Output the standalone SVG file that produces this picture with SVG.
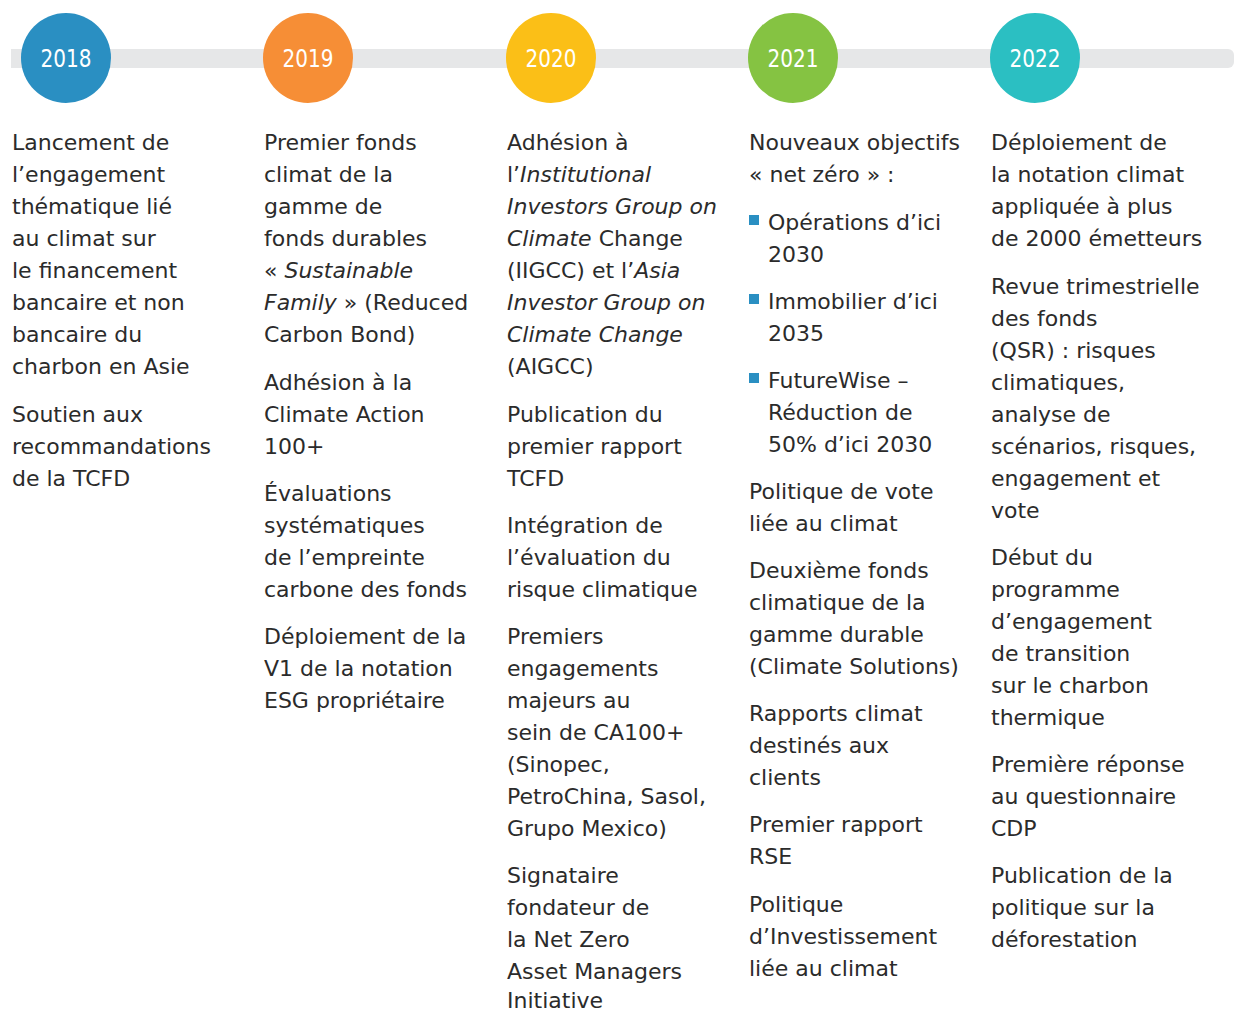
<svg xmlns="http://www.w3.org/2000/svg" width="1235" height="1011" viewBox="0 0 1235 1011">
<style>
.t{font-family:"DejaVu Sans","Liberation Sans",sans-serif;font-size:22px;fill:#2b2b2b}
.i{font-style:italic}
.y{font-family:"DejaVu Sans Condensed","DejaVu Sans",sans-serif;font-stretch:condensed;font-size:25px;fill:#ffffff;text-anchor:middle}
.b{fill:#2a8fc2}
</style>
<rect width="1235" height="1011" fill="#ffffff"/>
<g id="connectors">
<path d="M11 49 H1228 A6 6 0 0 1 1234 55 V62 A6 6 0 0 1 1228 68 H11 Z" fill="#e6e7e8"/>
</g>
<g id="y2018">
<circle cx="66" cy="58" r="45" fill="#2a8fc2"/>
<text class="y" x="66" y="67" textLength="51" lengthAdjust="spacingAndGlyphs">2018</text>
<text class="t" transform="translate(0,-2)">
<tspan x="12" y="151.5">Lancement de</tspan>
<tspan x="12" y="183.5">l’engagement</tspan>
<tspan x="12" y="215.5">thématique lié</tspan>
<tspan x="12" y="247.5">au climat sur</tspan>
<tspan x="12" y="279.5">le financement</tspan>
<tspan x="12" y="311.5">bancaire et non</tspan>
<tspan x="12" y="343.5">bancaire du</tspan>
<tspan x="12" y="375.5">charbon en Asie</tspan>
<tspan x="12" y="423.5">Soutien aux</tspan>
<tspan x="12" y="455.5">recommandations</tspan>
<tspan x="12" y="487.5">de la TCFD</tspan>
</text>
</g>
<g id="y2019">
<circle cx="308" cy="58" r="45" fill="#f68e36"/>
<text class="y" x="308" y="67" textLength="51" lengthAdjust="spacingAndGlyphs">2019</text>
<text class="t" transform="translate(0,-2)">
<tspan x="264" y="151.5">Premier fonds</tspan>
<tspan x="264" y="183.5">climat de la</tspan>
<tspan x="264" y="215.5">gamme de</tspan>
<tspan x="264" y="247.5">fonds durables</tspan>
<tspan x="264" y="279.5">« <tspan class="i">Sustainable</tspan></tspan>
<tspan x="264" y="311.5"><tspan class="i">Family</tspan> » (Reduced</tspan>
<tspan x="264" y="343.5">Carbon Bond)</tspan>
<tspan x="264" y="391.5">Adhésion à la</tspan>
<tspan x="264" y="423.5">Climate Action</tspan>
<tspan x="264" y="455.5">100+</tspan>
<tspan x="264" y="502.5">Évaluations</tspan>
<tspan x="264" y="534.5">systématiques</tspan>
<tspan x="264" y="566.5">de l’empreinte</tspan>
<tspan x="264" y="598.5">carbone des fonds</tspan>
<tspan x="264" y="645.5">Déploiement de la</tspan>
<tspan x="264" y="677.5">V1 de la notation</tspan>
<tspan x="264" y="709.5">ESG propriétaire</tspan>
</text>
</g>
<g id="y2020">
<circle cx="551" cy="58" r="45" fill="#fbbf17"/>
<text class="y" x="551" y="67" textLength="51" lengthAdjust="spacingAndGlyphs">2020</text>
<text class="t" transform="translate(0,-2)">
<tspan x="507" y="151.5">Adhésion à</tspan>
<tspan x="507" y="183.5">l’<tspan class="i">Institutional</tspan></tspan>
<tspan x="507" y="215.5" class="i">Investors Group on</tspan>
<tspan x="507" y="247.5"><tspan class="i">Climate</tspan> Change</tspan>
<tspan x="507" y="279.5">(IIGCC) et l’<tspan class="i">Asia</tspan></tspan>
<tspan x="507" y="311.5" class="i">Investor Group on</tspan>
<tspan x="507" y="343.5" class="i">Climate Change</tspan>
<tspan x="507" y="375.5">(AIGCC)</tspan>
<tspan x="507" y="423.5">Publication du</tspan>
<tspan x="507" y="455.5">premier rapport</tspan>
<tspan x="507" y="487.5">TCFD</tspan>
<tspan x="507" y="534.5">Intégration de</tspan>
<tspan x="507" y="566.5">l’évaluation du</tspan>
<tspan x="507" y="598.5">risque climatique</tspan>
<tspan x="507" y="645.5">Premiers</tspan>
<tspan x="507" y="677.5">engagements</tspan>
<tspan x="507" y="709.5">majeurs au</tspan>
<tspan x="507" y="741.5">sein de CA100+</tspan>
<tspan x="507" y="773.5">(Sinopec,</tspan>
<tspan x="507" y="805.5">PetroChina, Sasol,</tspan>
<tspan x="507" y="837.5">Grupo Mexico)</tspan>
<tspan x="507" y="884.5">Signataire</tspan>
<tspan x="507" y="916.5">fondateur de</tspan>
<tspan x="507" y="948.5">la Net Zero</tspan>
<tspan x="507" y="980.5">Asset Managers</tspan>
<tspan x="507" y="1010">Initiative</tspan>
</text>
</g>
<g id="y2021">
<circle cx="793" cy="58" r="45" fill="#85c342"/>
<text class="y" x="793" y="67" textLength="51" lengthAdjust="spacingAndGlyphs">2021</text>
<rect class="b" x="749" y="215" width="10" height="10"/>
<rect class="b" x="749" y="294" width="10" height="10"/>
<rect class="b" x="749" y="373" width="10" height="10"/>
<text class="t" transform="translate(0,-2)">
<tspan x="749" y="151.5">Nouveaux objectifs</tspan>
<tspan x="749" y="183.5">« net zéro » :</tspan>
<tspan x="768" y="231.5">Opérations d’ici</tspan>
<tspan x="768" y="263.5">2030</tspan>
<tspan x="768" y="310.5">Immobilier d’ici</tspan>
<tspan x="768" y="342.5">2035</tspan>
<tspan x="768" y="389.5">FutureWise –</tspan>
<tspan x="768" y="421.5">Réduction de</tspan>
<tspan x="768" y="453.5">50% d’ici 2030</tspan>
<tspan x="749" y="500.5">Politique de vote</tspan>
<tspan x="749" y="532.5">liée au climat</tspan>
<tspan x="749" y="579.5">Deuxième fonds</tspan>
<tspan x="749" y="611.5">climatique de la</tspan>
<tspan x="749" y="643.5">gamme durable</tspan>
<tspan x="749" y="675.5">(Climate Solutions)</tspan>
<tspan x="749" y="722.5">Rapports climat</tspan>
<tspan x="749" y="754.5">destinés aux</tspan>
<tspan x="749" y="786.5">clients</tspan>
<tspan x="749" y="833.5">Premier rapport</tspan>
<tspan x="749" y="865.5">RSE</tspan>
<tspan x="749" y="913.5">Politique</tspan>
<tspan x="749" y="945.5">d’Investissement</tspan>
<tspan x="749" y="977.5">liée au climat</tspan>
</text>
</g>
<g id="y2022">
<circle cx="1035" cy="58" r="45" fill="#2bbfc2"/>
<text class="y" x="1035" y="67" textLength="51" lengthAdjust="spacingAndGlyphs">2022</text>
<text class="t" transform="translate(0,-2)">
<tspan x="991" y="151.5">Déploiement de</tspan>
<tspan x="991" y="183.5">la notation climat</tspan>
<tspan x="991" y="215.5">appliquée à plus</tspan>
<tspan x="991" y="247.5">de 2000 émetteurs</tspan>
<tspan x="991" y="295.5">Revue trimestrielle</tspan>
<tspan x="991" y="327.5">des fonds</tspan>
<tspan x="991" y="359.5">(QSR) : risques</tspan>
<tspan x="991" y="391.5">climatiques,</tspan>
<tspan x="991" y="423.5">analyse de</tspan>
<tspan x="991" y="455.5">scénarios, risques,</tspan>
<tspan x="991" y="487.5">engagement et</tspan>
<tspan x="991" y="519.5">vote</tspan>
<tspan x="991" y="566.5">Début du</tspan>
<tspan x="991" y="598.5">programme</tspan>
<tspan x="991" y="630.5">d’engagement</tspan>
<tspan x="991" y="662.5">de transition</tspan>
<tspan x="991" y="694.5">sur le charbon</tspan>
<tspan x="991" y="726.5">thermique</tspan>
<tspan x="991" y="773.5">Première réponse</tspan>
<tspan x="991" y="805.5">au questionnaire</tspan>
<tspan x="991" y="837.5">CDP</tspan>
<tspan x="991" y="884.5">Publication de la</tspan>
<tspan x="991" y="916.5">politique sur la</tspan>
<tspan x="991" y="948.5">déforestation</tspan>
</text>
</g>
</svg>
